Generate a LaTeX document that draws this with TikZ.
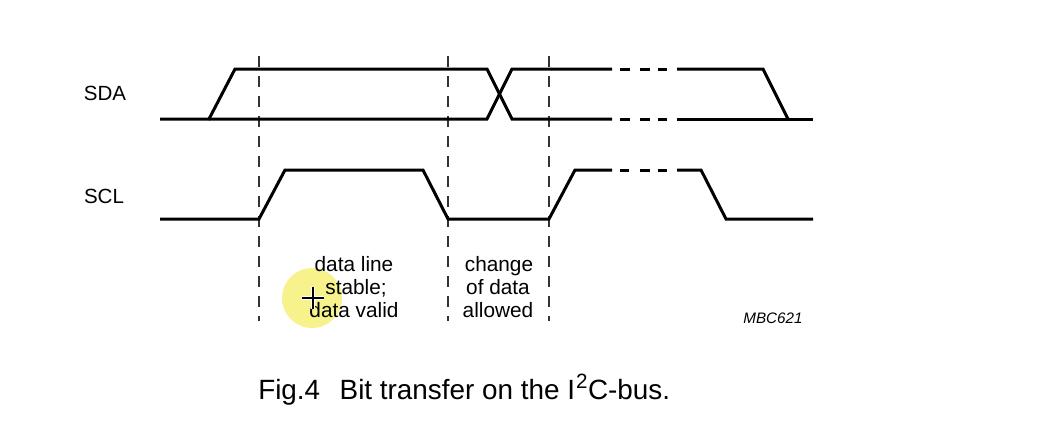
\documentclass[tikz,border=0pt]{standalone}
\usepackage{fontspec}
\setmainfont{Liberation Sans}
\definecolor{hl}{rgb}{0.97,0.95,0.55}
\pgfdeclareradialshading{spot}{\pgfpoint{0bp}{0bp}}{color(0bp)=(hl); color(24bp)=(hl); color(50bp)=(white)}
\begin{document}
\begin{tikzpicture}[x=0.75pt,y=-0.75pt,
  sig/.style={line width=2.25pt, line join=miter, black},
  guide/.style={line width=1.1pt, black!80, dash pattern=on 8.25pt off 6.75pt},
  lbl/.style={inner sep=0pt, font=\fontsize{15.4}{18}\selectfont},
  note/.style={inner sep=0pt, anchor=base, font=\fontsize{15.6}{18}\selectfont},
  code/.style={inner sep=0pt, anchor=base, font=\fontsize{11.4}{14}\selectfont\itshape},
  capt/.style={inner sep=0pt, anchor=base west, font=\fontsize{20.9}{24}\selectfont}]
\useasboundingbox (0,0) rectangle (1039,432);
% highlight spot (screen capture)
\shade[shading=spot] (312,298) circle (30);
% guides
\draw[guide] (259,56) -- (259,321);
\draw[guide] (448,56) -- (448,321);
\draw[guide] (549,56) -- (549,321);
% SDA
\draw[sig] (160,119) -- (209,119) -- (235,69) -- (487,69) -- (512,119) -- (612,119);
\draw[sig] (209,119) -- (487,119) -- (512,69) -- (612,69);
\foreach \a/\b in {620/630,640/650,658/667}{
  \draw[sig] (\a,69) -- (\b,69);
  \draw[sig] (\a,119) -- (\b,119);
}
\draw[sig] (677,69) -- (763,69) -- (788,119);
\draw[sig] (677,119) -- (813,119);
% SCL
\draw[sig] (160,219) -- (259,219) -- (285,170) -- (423,170) -- (448,219) -- (549,219) -- (575,170) -- (612,170);
\foreach \a/\b in {620/629,640/650,658/667}{
  \draw[sig] (\a,170) -- (\b,170);
}
\draw[sig] (677,170) -- (701,170) -- (726,219) -- (813,219);
% labels
\node[lbl, anchor=base] (sda) at (105,100) {SDA};
\node[lbl, anchor=base] (scl) at (104,203) {SCL};
\node[note] (a1) at (354,271) {data line};
\node[note] (a2) at (356,294) {stable;};
\node[note] (a3) at (354,317) {data valid};
\node[note] (b1) at (499,271) {change};
\node[note] (b2) at (498,294) {of data};
\node[note] (b3) at (498,317) {allowed};
\node[code] (mbc) at (773,323) {MBC621};
\node[capt] (cap) at (258,399) {Fig.4\hspace{0.7em}Bit transfer on the I\kern0.03em\raisebox{0.36em}{\fontsize{15.5}{15.5}\selectfont 2}\kern0.02em C-bus.};
% cursor
\draw[white, line width=2.6pt] (302,298) -- (324,298) (313,287) -- (313,309);
\draw[black, line width=1pt] (302,298) -- (324,298) (313,287) -- (313,309);
\end{tikzpicture}
\end{document}
